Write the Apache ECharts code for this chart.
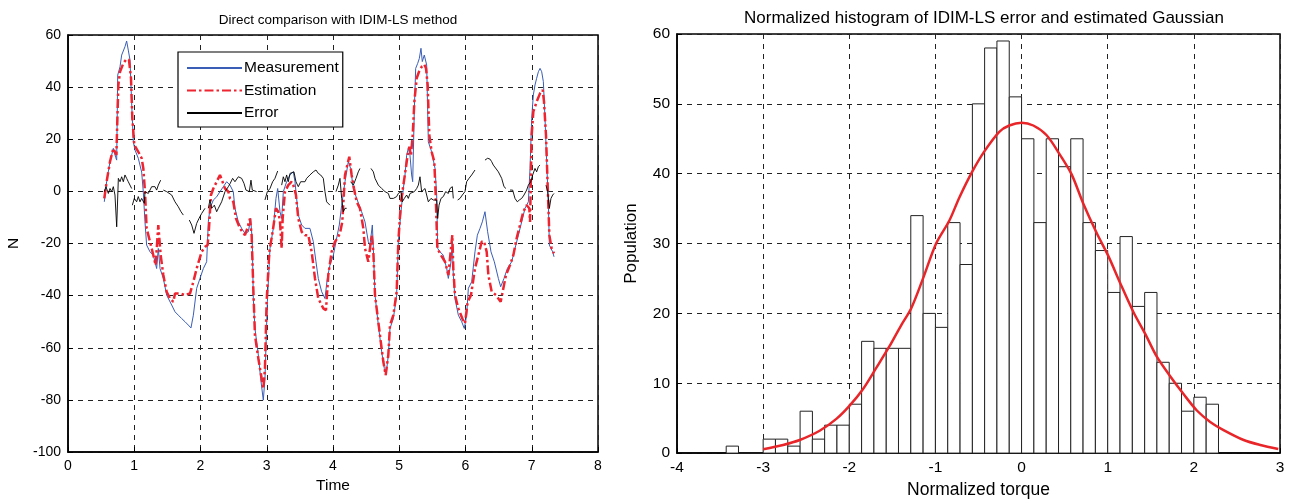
<!DOCTYPE html>
<html><head><meta charset="utf-8">
<script src="https://cdn.jsdelivr.net/npm/echarts@6/dist/echarts.min.js"></script>
<style>html,body{margin:0;padding:0;background:#fff}#c{width:1295px;height:504px}</style>
</head><body><div id="c"></div>
<script>
// ---- Left chart data: [time, N] ----
const measurement = [[0.548,-4],[0.583,3.7],[0.634,11.4],[0.684,16.5],[0.709,17.1],[0.72,13],[0.735,12],[0.75,44.6],[0.785,47.8],[0.81,52.3],[0.86,55.5],[0.885,57.7],[0.91,54.2],[0.936,50.4],[0.96,34.4],[0.986,19],[1.011,15.9],[1.061,12.7],[1.112,7.4],[1.137,-0.3],[1.162,-11.7],[1.187,-20.6],[1.238,-23.2],[1.288,-24.5],[1.338,-29.6],[1.363,-21.9],[1.389,-29.6],[1.439,-33.4],[1.489,-39.8],[1.565,-43.6],[1.615,-46.2],[1.665,-47.5],[1.716,-48.8],[1.766,-50],[1.816,-51.3],[1.856,-52.4],[1.892,-47.5],[1.942,-37.2],[1.992,-33.4],[2.043,-29.6],[2.093,-27],[2.118,-11.7],[2.143,-6.5],[2.194,-3.3],[2.244,-2.1],[2.294,-0.1],[2.345,1.8],[2.395,3.7],[2.445,2.4],[2.495,-0.1],[2.52,-6.5],[2.571,-11.7],[2.621,-14.2],[2.671,-16.1],[2.697,-16.1],[2.722,-15.5],[2.757,-10.4],[2.782,-19.3],[2.797,-41.1],[2.822,-52.6],[2.873,-62.8],[2.908,-71.8],[2.948,-80.1],[2.973,-71.8],[3.009,-42.4],[3.049,-21.9],[3.099,-14.2],[3.139,-2.7],[3.165,1.1],[3.2,-7.8],[3.225,-10.4],[3.25,-0.1],[3.3,3.7],[3.35,6.3],[3.401,7.5],[3.426,3.7],[3.476,-9.1],[3.527,-12.9],[3.577,-14.2],[3.652,-14.2],[3.703,-19.3],[3.743,-27],[3.778,-33.4],[3.829,-38.5],[3.879,-41.1],[3.914,-33.4],[3.954,-28.3],[4.005,-24.5],[4.045,-19.3],[4.095,-12.9],[4.131,-5.3],[4.181,3.7],[4.231,11.4],[4.266,8.8],[4.307,1.1],[4.357,-2.7],[4.432,-7.8],[4.483,-11.7],[4.533,-19.3],[4.558,-20.6],[4.594,-12.9],[4.609,-21.9],[4.634,-39.8],[4.684,-51.3],[4.735,-61.6],[4.775,-68],[4.8,-70.5],[4.835,-62.8],[4.86,-52.6],[4.911,-48.8],[4.961,-39.8],[4.986,-19.3],[5.026,-7.8],[5.062,1.1],[5.087,6.3],[5.112,13.9],[5.137,16.5],[5.162,13.9],[5.187,6.3],[5.203,3.7],[5.228,31.8],[5.248,47.2],[5.278,49.1],[5.303,51],[5.328,54.9],[5.348,49.8],[5.378,52.3],[5.414,48.5],[5.439,19],[5.489,15.2],[5.54,8.8],[5.565,-1.4],[5.58,-21.9],[5.615,-23.2],[5.665,-24.5],[5.716,-29.6],[5.741,-33.4],[5.781,-27],[5.801,-19.3],[5.816,-32.1],[5.841,-41.1],[5.892,-47.5],[5.942,-50],[5.982,-52.6],[6.017,-47.5],[6.043,-37.2],[6.093,-34.7],[6.143,-23.2],[6.179,-16.8],[6.219,-14.2],[6.254,-11.7],[6.294,-7.8],[6.334,-15.5],[6.385,-23.2],[6.435,-27],[6.496,-33.4],[6.531,-36.6],[6.581,-33.4],[6.632,-29.6],[6.697,-27],[6.747,-21.9],[6.798,-16.8],[6.848,-11.7],[6.898,-6.5],[6.949,-4],[6.974,8.8],[6.999,28],[7.024,37],[7.049,40.8],[7.074,43.4],[7.1,45.9],[7.125,47.2],[7.15,45.9],[7.175,42.1],[7.2,28],[7.225,11.4],[7.25,-4],[7.266,-20.6],[7.29,-21.9],[7.316,-23.2],[7.336,-25.1]];
const estimation = [[0.548,-2.7],[0.583,3.7],[0.634,11.4],[0.684,16.5],[0.709,15.2],[0.73,14],[0.76,40.8],[0.785,45.9],[0.835,49.1],[0.885,50.8],[0.921,50.4],[0.951,43.4],[0.971,28],[1.001,17.8],[1.061,15.2],[1.112,12.7],[1.137,8.8],[1.162,-0.1],[1.187,-14.2],[1.238,-19.3],[1.288,-24.5],[1.323,-28.3],[1.363,-12.9],[1.399,-24.5],[1.439,-32.1],[1.489,-38.5],[1.54,-41.1],[1.59,-42.4],[1.615,-39.2],[1.69,-39.2],[1.766,-39.8],[1.841,-39.2],[1.892,-34.7],[1.942,-29.6],[2.017,-23.2],[2.068,-21.3],[2.108,-20.6],[2.128,-14.2],[2.158,-1.4],[2.194,1.1],[2.244,3.7],[2.294,6.3],[2.319,6.3],[2.37,1.1],[2.42,-0.1],[2.445,-2.7],[2.495,-4],[2.536,-10.4],[2.596,-14.2],[2.671,-16.8],[2.707,-14.2],[2.747,-10.4],[2.772,-16.8],[2.797,-37.2],[2.822,-55.2],[2.873,-64.1],[2.923,-71.8],[2.948,-75.6],[2.973,-68],[2.998,-42.4],[3.039,-23.2],[3.089,-15.5],[3.139,-6.5],[3.174,-7.8],[3.2,-11.7],[3.225,-21.9],[3.24,-10.4],[3.275,-0.1],[3.325,2.4],[3.376,3.7],[3.401,2.4],[3.441,-1.4],[3.476,-10.4],[3.527,-15.5],[3.577,-16.8],[3.627,-16.8],[3.678,-23.2],[3.728,-33.4],[3.778,-41.1],[3.854,-44.9],[3.894,-45.6],[3.929,-32.1],[3.979,-23.2],[4.03,-19.3],[4.065,-18],[4.105,-16.1],[4.14,-11.7],[4.181,6.3],[4.216,10.1],[4.246,13.3],[4.281,6.3],[4.317,1.1],[4.357,-4],[4.407,-6.5],[4.458,-14.2],[4.483,-21.9],[4.533,-27],[4.584,-16.8],[4.609,-23.2],[4.634,-39.8],[4.709,-55.2],[4.76,-65.4],[4.795,-70.5],[4.835,-62.8],[4.86,-51.3],[4.911,-47.5],[4.961,-38.5],[4.986,-19.3],[5.026,-4],[5.077,5],[5.127,13.9],[5.152,17.1],[5.177,13.9],[5.203,21.6],[5.228,34.4],[5.263,43.4],[5.298,45.9],[5.338,47.8],[5.378,48.7],[5.404,47.2],[5.429,40.8],[5.454,21.6],[5.489,15.2],[5.529,11.4],[5.55,-1.4],[5.575,-21.9],[5.63,-24.5],[5.691,-27],[5.741,-32.1],[5.781,-21.9],[5.801,-16.8],[5.816,-29.6],[5.841,-39.8],[5.892,-44.9],[5.952,-48.8],[5.992,-50.7],[6.033,-42.4],[6.083,-39.8],[6.143,-29.6],[6.219,-21.9],[6.244,-19.3],[6.279,-19.1],[6.32,-23.2],[6.345,-32.1],[6.395,-38.5],[6.46,-39.8],[6.531,-42.4],[6.561,-38.5],[6.611,-32.1],[6.672,-28.3],[6.722,-24.5],[6.772,-18],[6.823,-12.9],[6.873,-7.8],[6.923,-5.3],[6.963,-6.5],[6.974,-11.7],[6.999,21.6],[7.024,30.6],[7.074,34.4],[7.125,37.6],[7.165,38.9],[7.185,34.4],[7.215,21.6],[7.24,2.4],[7.266,-16.8],[7.3,-21.9],[7.336,-23.8]];
// null entries mark the gaps in the error trace
const errorTrace = [[0.548,-0.1],[0.573,1.8],[0.609,-0.8],[0.634,1.1],[0.659,-0.1],[0.684,1.8],[0.709,-1.4],[0.735,-13.6],[0.76,5],[0.785,3.7],[0.81,5.6],[0.835,3.7],[0.86,6.3],[0.885,5],[0.91,3.7],[0.936,4.3],[0.961,1.1],null,
[0.971,-5.3],[1.001,-2.7],[1.036,-4],[1.061,-2],[1.087,-4],[1.112,-2.7],[1.152,-4.6],[1.162,-0.1],[1.212,-0.8],[1.263,1.8],[1.313,1.8],[1.338,0.5],[1.363,2.4],[1.399,4.3],null,
[1.439,0.5],[1.489,-0.1],[1.565,-1.4],[1.615,-4],[1.665,-5.9],[1.705,-7.8],[1.741,-9.1],null,
[1.831,-11],[1.867,-12.9],[1.902,-16.1],[1.942,-12.3],[1.977,-10.4],[2.017,-8.5],[2.068,-6.5],null,
[2.118,-6.5],[2.143,-3.3],[2.168,-6.5],[2.209,-5.3],[2.244,-7.8],[2.269,-6.5],[2.319,-4],[2.37,-0.1],[2.42,1.8],[2.445,2.9],[2.485,5],[2.52,3.7],[2.571,5.6],[2.621,5],[2.656,3.1],[2.686,0.5],[2.737,-0.1],[2.762,4.3],[2.782,0.5],[2.807,-0.1],[2.847,-0.1],null,
[2.973,-3.3],[3.009,-0.1],[3.049,1.1],[3.089,3.7],[3.124,5],[3.165,7.8],null,
[3.225,2.4],[3.25,5.6],[3.275,3.7],[3.3,6.3],[3.325,3.7],[3.351,6.9],[3.376,6.3],[3.411,7.5],[3.441,3.7],[3.476,1.8],[3.512,3.7],[3.542,4.3],[3.577,3.7],[3.602,5],[3.652,6.3],[3.678,5.6],[3.703,7.5],[3.743,8.2],[3.778,6.9],[3.813,6.3],[3.854,5],[3.879,-0.1],[3.904,-4],[3.954,-5.3],null,
[4.045,-0.1],[4.08,2.4],[4.105,5],[4.131,-2.7],[4.156,-7.8],[4.181,-6.5],[4.206,-6.5],null,
[4.266,3.7],[4.307,2.4],[4.347,5],[4.382,7.5],[4.407,8.8],null,
[4.573,8.8],[4.609,7.5],[4.634,5],[4.684,2.4],[4.735,1.1],[4.785,-0.1],[4.835,-0.8],[4.86,-2.7],[4.911,-2.7],[4.961,-2],[4.986,-0.8],[5.026,-0.1],[5.046,-4],[5.077,-2.7],[5.112,-1.4],[5.137,-2.7],[5.162,-0.8],[5.187,-1.4],[5.228,-0.1],[5.263,1.1],[5.288,2.4],[5.313,5.6],[5.338,-0.1],[5.389,1.1],[5.414,1.8],[5.439,-4],[5.479,-2.7],[5.514,-3.3],[5.54,-4],[5.565,-3.3],[5.58,-10.4],[5.6,-5.3],[5.63,-2.7],[5.665,-2],[5.701,-0.1],[5.741,-0.8],[5.766,1.1],[5.801,1.8],[5.816,-2.7],null,
[5.882,-3.3],[5.917,-2.7],[5.952,-1.4],[5.992,-0.1],[6.017,3.7],[6.053,5],[6.093,6.3],[6.143,8.2],null,
[6.294,12],[6.334,12.7],[6.369,12.4],[6.395,11.4],[6.42,10.1],[6.445,9.5],[6.496,7.5],[6.546,5],[6.581,1.8],[6.611,1.1],null,
[6.672,0.5],[6.712,0.5],[6.747,-2.7],[6.782,-4],[6.813,-3.3],[6.848,-2.7],[6.883,-1.4],[6.923,0.5],[6.949,2.4],[6.984,3.7],[7.014,6.3],[7.049,8.8],[7.074,7.5],[7.1,9.5],[7.125,10.1],null,
[7.215,2.4],[7.24,-0.1],[7.266,-6.5],[7.29,-2.7],[7.316,-1.4],[7.336,-0.8]];

// ---- Right chart data ----
const binLeft = [-3.429,-3.286,-3.143,-3.0,-2.857,-2.714,-2.571,-2.429,-2.286,-2.143,-2.0,-1.857,-1.714,-1.571,-1.429,-1.286,-1.143,-1.0,-0.857,-0.714,-0.571,-0.429,-0.286,-0.143,0.0,0.143,0.286,0.429,0.571,0.714,0.857,1.0,1.143,1.286,1.429,1.571,1.714,1.857,2.0,2.143];
const binCount = [1,0,0,2,2,1,6,2,4,4,7,16,15,15,15,34,20,18,33,27,50,58,59,51,45,33,45,41,45,33,29,23,31,21,23,13,10,6,8,7];
const binWidth = 0.1429;
const gaussX = [-3,-2.768,-2.575,-2.344,-2.15,-1.996,-1.842,-1.687,-1.533,-1.398,-1.282,-1.147,-0.992,-0.838,-0.722,-0.568,-0.432,-0.259,-0.143,0,0.136,0.291,0.446,0.581,0.717,0.872,1.008,1.143,1.298,1.434,1.57,1.725,1.88,2.035,2.19,2.345,2.578,2.771,2.98];
const gaussY = [0.56,1.17,1.88,3.2,4.9,6.8,9.15,12.2,15.3,18.3,20.7,24.9,30.0,33.3,36.6,40.4,43.2,46.0,46.9,47.3,46.9,45.5,42.7,39.9,35.7,31.5,28.2,24.4,20.2,17.1,13.8,11.0,8.45,6.1,4.46,3.3,1.88,1.17,0.6];

const leftTicks = {x: [0, 8, 1], y: [-100, 60, 20]};
const rightTicks = {x: [-4, 3, 1], y: [0, 60, 10]};

const FONT = '"Liberation Sans", Arial, sans-serif';
function lbl(size) { return {color: '#000', fontSize: size, fontFamily: FONT}; }
const split = {show: true, lineStyle: {color: '#222', type: [5, 5], width: 1}};
function ax(min, max, interval, fs, nfs, extra) {
  return Object.assign({type: 'value', min, max, interval,
    axisLine: {show: true, onZero: false, lineStyle: {color: '#000', width: 1.5}},
    axisTick: {show: true, inside: true, length: 5, lineStyle: {color: '#000'}},
    axisLabel: Object.assign({margin: 7}, lbl(fs)),
    splitLine: split,
    nameTextStyle: lbl(nfs)}, extra);
}

const chart = echarts.init(document.getElementById('c'), null, {renderer: 'canvas'});
chart.setOption({
  animation: false,
  backgroundColor: '#fff',
  title: [
    {text: 'Direct comparison with IDIM-LS method', left: 333, top: 8, textAlign: 'center',
     textStyle: {fontSize: 13.5, fontWeight: 'normal', color: '#000', fontFamily: FONT}},
    {text: 'Normalized histogram of IDIM-LS error and estimated Gaussian', left: 979, top: 5, textAlign: 'center',
     textStyle: {fontSize: 17, fontWeight: 'normal', color: '#000', fontFamily: FONT}}
  ],
  grid: [
    {left: 68, right: 697, top: 35, bottom: 52, show: true, borderColor: '#000', borderWidth: 1.5, backgroundColor: 'transparent'},
    {left: 677, right: 15, top: 34, bottom: 44, show: true, borderColor: '#000', borderWidth: 1.5, backgroundColor: 'transparent'}
  ],
  xAxis: [
    ax(leftTicks.x[0], leftTicks.x[1], leftTicks.x[2], 14, 15.5, {gridIndex: 0, name: 'Time', nameLocation: 'middle', nameGap: 26}),
    ax(rightTicks.x[0], rightTicks.x[1], rightTicks.x[2], 15.5, 17.5, {gridIndex: 1, name: 'Normalized torque', nameLocation: 'middle', nameGap: 24})
  ],
  yAxis: [
    ax(leftTicks.y[0], leftTicks.y[1], leftTicks.y[2], 14, 15.5, {gridIndex: 0, name: 'N', nameLocation: 'middle', nameGap: 46}),
    ax(rightTicks.y[0], rightTicks.y[1], rightTicks.y[2], 15.5, 17, {gridIndex: 1, name: 'Population', nameLocation: 'middle', nameGap: 37})
  ],
  legend: {
    left: 178, top: 52, orient: 'vertical', itemWidth: 55, itemHeight: 14, itemGap: 6.5,
    padding: [8, 4, 6, 8], borderColor: '#000', borderWidth: 1.2, backgroundColor: '#fff',
    itemStyle: {opacity: 0},
    textStyle: Object.assign(lbl(15.5), {padding: [0, 0, 0, -3]}),
    data: ['Measurement', 'Estimation', 'Error']
  },
  series: [
    {name: 'Measurement', type: 'line', xAxisIndex: 0, yAxisIndex: 0, data: measurement, symbol: 'none',
     lineStyle: {color: '#3a5db5', width: 1}, itemStyle: {color: '#3a5db5'}, z: 3},
    {name: 'Estimation', type: 'line', xAxisIndex: 0, yAxisIndex: 0, data: estimation, symbol: 'none',
     lineStyle: {color: '#ee2530', width: 2.5, type: [9, 3, 2.5, 3]}, itemStyle: {color: '#ee2530'}, z: 4},
    {name: 'Error', type: 'line', xAxisIndex: 0, yAxisIndex: 0, data: errorTrace.map(p => p === null ? [null, null] : p),
     connectNulls: false, symbol: 'none', lineStyle: {color: '#000', width: 0.9}, itemStyle: {color: '#000'}, z: 5},
    {name: 'hist', type: 'custom', xAxisIndex: 1, yAxisIndex: 1,
     data: binLeft.map((l, i) => [l, l + binWidth, binCount[i]]),
     encode: {x: [0, 1], y: 2},
     renderItem: function (params, api) {
       const p0 = api.coord([api.value(0), api.value(2)]);
       const p1 = api.coord([api.value(1), 0]);
       return {type: 'rect', shape: {x: p0[0], y: p0[1], width: p1[0] - p0[0], height: p1[1] - p0[1]},
         style: {fill: '#fff', stroke: '#222', lineWidth: 1}};
     }, z: 2},
    {name: 'gauss', type: 'line', xAxisIndex: 1, yAxisIndex: 1, data: gaussX.map((x, i) => [x, gaussY[i]]),
     symbol: 'none', smooth: 0.3, lineStyle: {color: '#e8262a', width: 2.5}, z: 5}
  ]
});
</script></body></html>
